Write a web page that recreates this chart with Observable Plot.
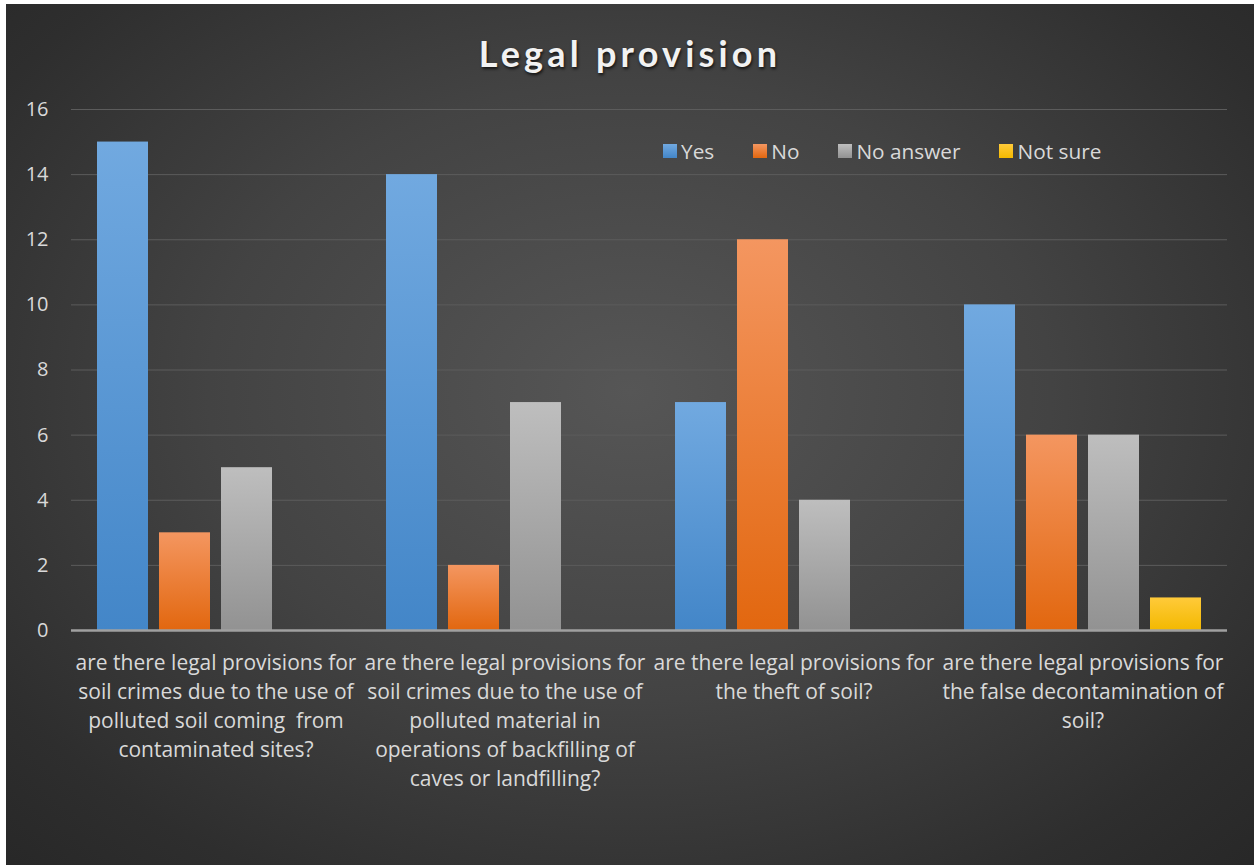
<!DOCTYPE html>
<html>
<head>
<meta charset="utf-8">
<script src="https://cdn.jsdelivr.net/npm/d3@7"></script>
<script src="https://cdn.jsdelivr.net/npm/@observablehq/plot@0.6"></script>
<style>
  html, body { margin: 0; padding: 0; background: #ffffff; }
  #chart {
    position: absolute; left: 6px; top: 4px; width: 1248px; height: 861px; overflow: hidden;
    background: radial-gradient(ellipse 75% 80% at 50% 45%, #565656 0%, #434343 45%, #2e2e2e 80%, #262626 100%);
    font-family: "Open Sans", Lato, sans-serif;
  }
  #title {
    position: absolute; left: 0; width: 1248px; top: 27px; text-align: center;
    font-family: Lato, sans-serif;
    font-size: 36px; font-weight: bold; letter-spacing: 4.2px; color: #f2f2f2;
    text-shadow: 1px 2px 3px rgba(0,0,0,0.7);
  }
  #legend {
    position: absolute; left: 657px; top: 133px; display: flex; gap: 39px;
    font-size: 20.8px; color: #d9d9d9; align-items: center;
  }
  #legend .item { display: flex; align-items: center; }
  #legend .sw { width: 14px; height: 14px; margin-right: 4px; }
  svg { position: absolute; left: 0; top: 0; }
</style>
</head>
<body>
<div id="chart">
  <div id="title">Legal provision</div>
  <div id="legend"></div>
</div>
<script>
const questions = [
  "are there legal provisions for soil crimes due to the use of polluted soil coming  from contaminated sites?",
  "are there legal provisions for soil crimes due to the use of polluted material in operations of backfilling of caves or landfilling?",
  "are there legal provisions for the theft of soil?",
  "are there legal provisions for the false decontamination of soil?"
];
const questionLabels = [
  "are there legal provisions for\nsoil crimes due to the use of\npolluted soil coming  from\ncontaminated sites?",
  "are there legal provisions for\nsoil crimes due to the use of\npolluted material in\noperations of backfilling of\ncaves or landfilling?",
  "are there legal provisions for\nthe theft of soil?",
  "are there legal provisions for\nthe false decontamination of\nsoil?"
];
const seriesNames = ["Yes", "No", "No answer", "Not sure"];
const yesValues = [15, 14, 7, 10];
const noValues = [3, 2, 12, 6];
const noAnswerValues = [5, 7, 4, 6];
const notSureValues = [0, 0, 0, 1];
const yTicks = [0, 2, 4, 6, 8, 10, 12, 14, 16];

const gradients = {
  "Yes": ["#71a9e0", "#4386c8"],
  "No": ["#f49660", "#e2670f"],
  "No answer": ["#bebebe", "#929292"],
  "Not sure": ["#ffca3a", "#f3b900"]
};
const gradIds = seriesNames.map((s, i) => "grad" + i);

const seriesValues = [yesValues, noValues, noAnswerValues, notSureValues];
const rows = [];
questions.forEach((q, qi) => {
  seriesNames.forEach((s, si) => {
    rows.push({question: q, series: s, value: seriesValues[si][qi]});
  });
});

const W = 1248, H = 861;
const plot = Plot.plot({
  width: W,
  height: H,
  marginTop: 105,
  marginBottom: 235,
  marginLeft: 64,
  marginRight: 26,
  style: {background: "transparent", color: "#d9d9d9", fontFamily: "'Open Sans', Lato, sans-serif", overflow: "visible"},
  fx: {domain: questions, padding: 0, axis: null},
  x: {domain: seriesNames, paddingInner: 0.175, paddingOuter: 0.385, axis: null},
  y: {domain: [0, 16], axis: null},
  color: {domain: seriesNames, range: gradIds.map(id => `url(#${id})`)},
  marks: [
    Plot.gridY(yTicks, {stroke: "#5c5c5c", strokeOpacity: 1, strokeWidth: 1}),
    Plot.axisY(yTicks, {tickSize: 0, tickPadding: 23, fontSize: 20, fill: "#d9d9d9", label: null}),
    Plot.barY(rows, {fx: "question", x: "series", y: "value", fill: "series"}),
    Plot.ruleY([0], {stroke: "#a0a0a0", strokeWidth: 2.5}),
    Plot.text(questions, {
      fx: d => d,
      text: d => questionLabels[questions.indexOf(d)],
      frameAnchor: "bottom",
      lineAnchor: "top",
      dy: 19,
      lineHeight: 1.38,
      fontSize: 21,
      fill: "#d9d9d9"
    })
  ]
});

// gradient defs
const svg = d3.select(plot);
const defs = svg.insert("defs", ":first-child");
seriesNames.forEach((s, i) => {
  const g = defs.append("linearGradient").attr("id", gradIds[i]).attr("x1", 0).attr("y1", 0).attr("x2", 0).attr("y2", 1);
  g.append("stop").attr("offset", "0%").attr("stop-color", gradients[s][0]);
  g.append("stop").attr("offset", "100%").attr("stop-color", gradients[s][1]);
});

const chart = document.getElementById("chart");
chart.insertBefore(plot, chart.firstChild);

// legend
const legend = d3.select("#legend");
seriesNames.forEach((s, i) => {
  const item = legend.append("div").attr("class", "item");
  item.append("div").attr("class", "sw")
    .style("background", `linear-gradient(${gradients[s][0]}, ${gradients[s][1]})`);
  item.append("span").text(s);
});
</script>
</body>
</html>
